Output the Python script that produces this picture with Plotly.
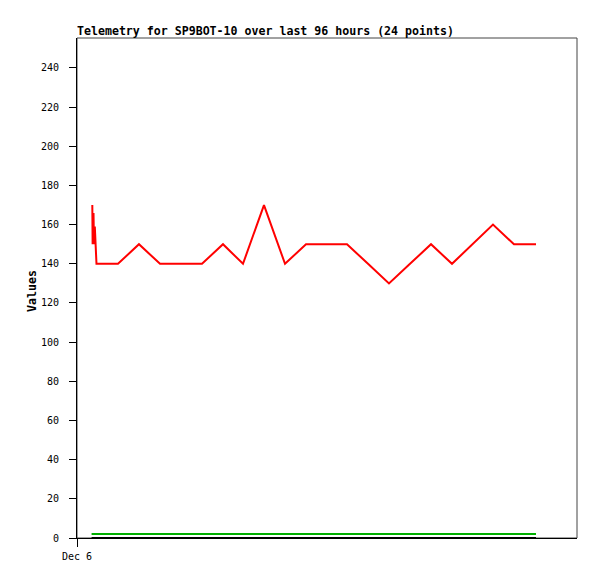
import plotly.graph_objects as go

# Telemetry data (hours since Dec 6 00:00)
red_hours = [2.94, 3.0, 3.17, 3.26, 3.42, 3.55, 3.74,
             7.87, 11.9, 15.94, 19.97, 24.0, 28.03, 31.87, 35.9, 39.94,
             43.97, 48.0, 51.84, 55.87, 59.9, 63.94, 67.97, 72.0, 75.84,
             79.87, 83.9, 88.13]
red_values = [170, 150, 166, 150, 159, 151, 140,
              140, 150, 140, 140, 140, 150, 140, 170, 140,
              150, 150, 150, 140, 130, 140, 150, 140, 150,
              160, 150, 150]
green_hours = [2.8, 88.13]
green_values = [2, 2]
black_hours = [2.8, 88.13]
black_values = [0, 0]

y_ticks = list(range(0, 241, 20))
x_tick_vals = [0]
x_tick_text = ["Dec 6"]

title_text = "Telemetry for SP9BOT-10 over last 96 hours (24 points)"
font_mono = "DejaVu Sans Mono"

# page body has an 8px margin; figure sized to fit inside the 597x579 window
W, H = 581, 563
OFF = 8

fig = go.Figure()
fig.add_trace(go.Scatter(x=black_hours, y=black_values, mode="lines",
                         line=dict(color="#000000", width=2), showlegend=False))
fig.add_trace(go.Scatter(x=green_hours, y=green_values, mode="lines",
                         line=dict(color="#00b000", width=2), showlegend=False))
fig.add_trace(go.Scatter(x=red_hours, y=red_values, mode="lines",
                         line=dict(color="#ff0000", width=2), showlegend=False))

fig.update_layout(
    width=W, height=H,
    margin=dict(l=77 - OFF, r=W - (577 - OFF), t=38 - OFF, b=H - (538 - OFF), autoexpand=False),
    paper_bgcolor="white", plot_bgcolor="white",
    showlegend=False,
    title=dict(text=title_text, x=(77 - OFF) / W, xanchor="left",
               y=1 - (31 - OFF) / H, yanchor="middle", xref="container", yref="container",
               font=dict(family=font_mono, size=11.6, color="black", weight="bold")),
    shapes=[dict(type="rect", xref="paper", yref="paper", x0=0, x1=1, y0=0, y1=1,
                 line=dict(color="#444444", width=1), layer="below")],
    annotations=[dict(text="<b>Values</b>", textangle=-90, xref="paper", yref="paper",
                      x=(32 - 77) / 500, y=(538 - 291) / 500, xanchor="center", yanchor="middle",
                      showarrow=False,
                      font=dict(family=font_mono, size=11.6, color="black"))],
)
fig.update_xaxes(range=[0, 96], tickvals=x_tick_vals, ticktext=x_tick_text,
                 automargin=False,
                 showgrid=False, zeroline=False, showline=True, linecolor="black",
                 linewidth=1, ticks="outside", ticklen=8, tickcolor="black",
                 ticklabelstandoff=1,
                 tickfont=dict(family=font_mono, size=10, color="black"))
fig.update_yaxes(range=[0, 255.3], tickvals=y_ticks,
                 automargin=False,
                 showgrid=False, zeroline=False, showline=True, linecolor="black",
                 linewidth=1, ticks="outside", ticklen=7, tickcolor="black",
                 ticklabelstandoff=8,
                 tickfont=dict(family=font_mono, size=10, color="black"))

fig.write_html("out.html")
